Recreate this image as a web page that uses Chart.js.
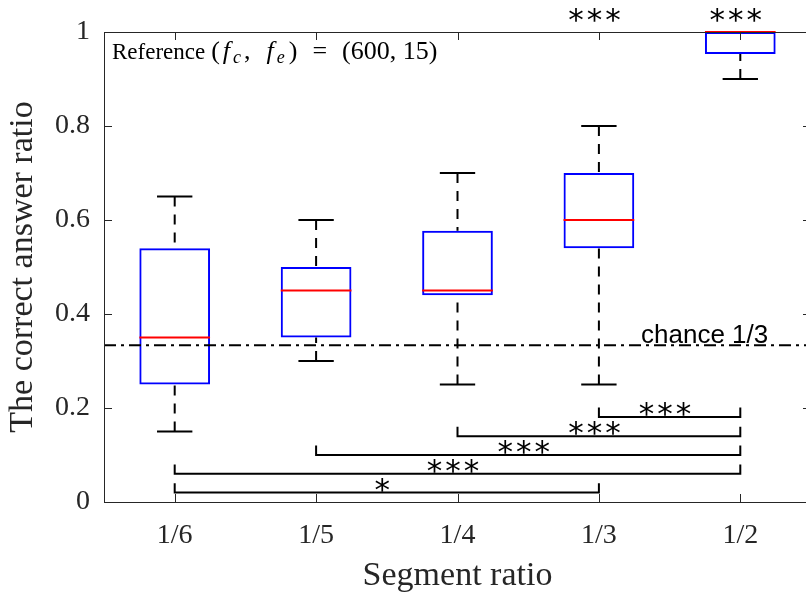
<!DOCTYPE html>
<html>
<head>
<meta charset="utf-8">
<script src="https://cdn.jsdelivr.net/npm/chart.js@4.4.0/dist/chart.umd.min.js"></script>
<style>
  html, body { margin: 0; padding: 0; background: #fff; overflow: hidden; }
  #wrap { width: 806px; height: 597px; overflow: hidden; }
</style>
</head>
<body>
<div id="wrap"><canvas id="myChart" width="816" height="597"></canvas></div>
<script>
// box statistics per segment ratio
const categories = ['1/6', '1/5', '1/4', '1/3', '1/2'];
const whiskerLow = [0.15, 0.30, 0.25, 0.25, 0.90];
const quartile1 = [0.25, 0.35, 0.44, 0.54, 0.953];
const medians = [0.35, 0.45, 0.45, 0.60, 1.00];
const quartile3 = [0.54, 0.50, 0.577, 0.70, 1.00];
const whiskerHigh = [0.65, 0.60, 0.70, 0.80, 1.00];
const yTicks = [0, 0.2, 0.4, 0.6, 0.8, 1];
const chanceLevel = 1 / 3;
const chanceLabel = 'chance 1/3';

// significance brackets (from, to, height, marks)
const bracketFrom = ['1/3', '1/4', '1/5', '1/6', '1/6'];
const bracketTo = ['1/2', '1/2', '1/2', '1/2', '1/3'];
const bracketLevel = [0.181, 0.14, 0.10, 0.06, 0.02];
const bracketMarks = ['***', '***', '***', '***', '*'];
const topMarkCats = ['1/3', '1/2'];
const topMarks = ['***', '***'];
const topMarkLevel = 1.037;

const axisColor = '#262626';
const serif = 'Liberation Serif';
const sans = 'Liberation Sans';
const starFont = '31px DejaVu Sans';

// draw a text so that its glyphs are centred on (cx, cy)
function centredText(ctx, txt, cx, cy) {
  const m = ctx.measureText(txt);
  const h = m.actualBoundingBoxAscent + m.actualBoundingBoxDescent;
  ctx.textAlign = 'center';
  ctx.textBaseline = 'alphabetic';
  ctx.fillText(txt, cx, cy + h / 2 - m.actualBoundingBoxDescent);
}

const boxExtras = {
  id: 'boxExtras',
  afterDatasetsDraw(chart) {
    const ctx = chart.ctx;
    const xs = chart.scales.x, ys = chart.scales.y;
    const area = chart.chartArea;
    const bars = chart.getDatasetMeta(0).data;
    ctx.save();

    // whiskers + caps + medians
    bars.forEach((bar, i) => {
      const cx = xs.getPixelForValue(i);
      const cap = bar.width / 4;
      ctx.strokeStyle = '#000';
      ctx.lineWidth = 2;
      ctx.setLineDash([10, 8]);
      ctx.beginPath();
      ctx.moveTo(cx, ys.getPixelForValue(whiskerHigh[i]));
      ctx.lineTo(cx, ys.getPixelForValue(quartile3[i]));
      ctx.moveTo(cx, ys.getPixelForValue(whiskerLow[i]));
      ctx.lineTo(cx, ys.getPixelForValue(quartile1[i]));
      ctx.stroke();
      ctx.setLineDash([]);
      ctx.beginPath();
      [whiskerHigh[i], whiskerLow[i]].forEach(v => {
        const py = ys.getPixelForValue(v);
        ctx.moveTo(cx - cap, py);
        ctx.lineTo(cx + cap, py);
      });
      ctx.stroke();
      ctx.strokeStyle = '#ff0000';
      ctx.beginPath();
      const my = ys.getPixelForValue(medians[i]);
      ctx.moveTo(cx - bar.width / 2, my);
      ctx.lineTo(cx + bar.width / 2, my);
      ctx.stroke();
    });

    // chance line
    const chy = ys.getPixelForValue(chanceLevel);
    ctx.strokeStyle = '#000';
    ctx.lineWidth = 2;
    ctx.setLineDash([12, 5, 3, 5]);
    ctx.beginPath();
    ctx.moveTo(area.left, chy);
    ctx.lineTo(area.right, chy);
    ctx.stroke();
    ctx.setLineDash([]);
    ctx.fillStyle = '#000';
    ctx.font = '26px ' + sans;
    ctx.textAlign = 'left';
    ctx.textBaseline = 'alphabetic';
    ctx.fillText(chanceLabel, 641, chy - 2);

    // significance brackets
    const tickUp = ys.getPixelForValue(0) - ys.getPixelForValue(0.02);
    ctx.font = starFont;
    ctx.letterSpacing = '3px';
    bracketFrom.forEach((from, k) => {
      const x0 = xs.getPixelForValue(categories.indexOf(from));
      const x1 = xs.getPixelForValue(categories.indexOf(bracketTo[k]));
      const py = ys.getPixelForValue(bracketLevel[k]);
      ctx.beginPath();
      ctx.moveTo(x0, py - tickUp);
      ctx.lineTo(x0, py);
      ctx.lineTo(x1, py);
      ctx.lineTo(x1, py - tickUp);
      ctx.stroke();
      centredText(ctx, bracketMarks[k], (x0 + x1) / 2 - 3, py - 8);
    });
    ctx.letterSpacing = '0px';

    // frame with inward ticks
    ctx.strokeStyle = axisColor;
    ctx.lineWidth = 1;
    ctx.strokeRect(area.left + 0.5, area.top + 0.5, area.right - area.left - 1, area.bottom - area.top);
    ctx.beginPath();
    yTicks.forEach(v => {
      const py = Math.round(ys.getPixelForValue(v)) + 0.5;
      ctx.moveTo(area.left, py); ctx.lineTo(area.left + 8, py);
      ctx.moveTo(area.right, py); ctx.lineTo(area.right - 8, py);
    });
    categories.forEach((c, i) => {
      const px = Math.round(xs.getPixelForValue(i)) + 0.5;
      ctx.moveTo(px, area.bottom); ctx.lineTo(px, area.bottom - 8);
      ctx.moveTo(px, area.top); ctx.lineTo(px, area.top + 8);
    });
    ctx.stroke();
    ctx.restore();
  },
  afterDraw(chart) {
    const ctx = chart.ctx;
    const xs = chart.scales.x, ys = chart.scales.y;
    const area = chart.chartArea;
    ctx.save();
    ctx.fillStyle = '#000';
    ctx.font = starFont;
    ctx.letterSpacing = '3px';
    topMarkCats.forEach((c, k) => {
      centredText(ctx, topMarks[k], xs.getPixelForValue(categories.indexOf(c)) - 3, ys.getPixelForValue(topMarkLevel));
    });
    ctx.letterSpacing = '0px';

    // reference label, LaTeX-like: [text, style, size, raise, gap after]
    const parts = [
      ['Reference', 'normal', 23, 0, 6],
      ['(', 'normal', 26, 0, 3],
      ['f', 'italic', 26, 0, 3],
      ['c', 'italic', 18, 4, 3],
      [',', 'normal', 26, 0, 16],
      ['f', 'italic', 26, 0, 3],
      ['e', 'italic', 18, 4, 4],
      [')', 'normal', 26, 0, 15],
      ['=', 'normal', 26, 0, 15],
      ['(600, 15)', 'normal', 26, 0, 0]
    ];
    let px = area.left + 8;
    const base = area.top + 27;
    ctx.textAlign = 'left';
    ctx.textBaseline = 'alphabetic';
    parts.forEach(([t, st, sz, dy, gap]) => {
      ctx.font = st + ' ' + sz + 'px ' + serif;
      ctx.fillText(t, px, base + dy);
      px += ctx.measureText(t).width + gap;
    });
    ctx.restore();
  }
};

const ctx = document.getElementById('myChart').getContext('2d');
new Chart(ctx, {
  type: 'bar',
  data: {
    labels: categories,
    datasets: [{
      data: quartile1.map((q, i) => [q, quartile3[i]]),
      backgroundColor: 'rgba(0,0,0,0)',
      borderColor: '#0000ff',
      borderWidth: 2,
      borderSkipped: false,
      barPercentage: 0.5,
      categoryPercentage: 1
    }]
  },
  options: {
    responsive: false,
    animation: false,
    layout: { padding: { top: 32, right: 5, left: 0, bottom: 0 } },
    plugins: { legend: { display: false }, tooltip: { enabled: false } },
    scales: {
      x: {
        grid: { display: false, drawTicks: false },
        border: { display: false },
        ticks: { font: { family: serif, size: 28 }, color: axisColor, padding: 17, maxRotation: 0 },
        title: { display: true, text: 'Segment ratio', font: { family: serif, size: 34 }, color: axisColor, padding: { top: 0, bottom: 1 } },
        afterFit(s) { s.height = 95; }
      },
      y: {
        min: 0,
        max: 1,
        grid: { display: false, drawTicks: false },
        border: { display: false },
        afterBuildTicks(s) { s.ticks = yTicks.map(v => ({ value: v })); },
        ticks: { font: { family: serif, size: 28 }, color: axisColor, padding: 14, callback: v => String(v) },
        title: { display: true, text: 'The correct answer ratio', font: { family: serif, size: 34 }, color: axisColor, padding: { top: 3, bottom: 0 } },
        afterFit(s) { s.width = 104; }
      }
    }
  },
  plugins: [boxExtras]
});
</script>
</body>
</html>
